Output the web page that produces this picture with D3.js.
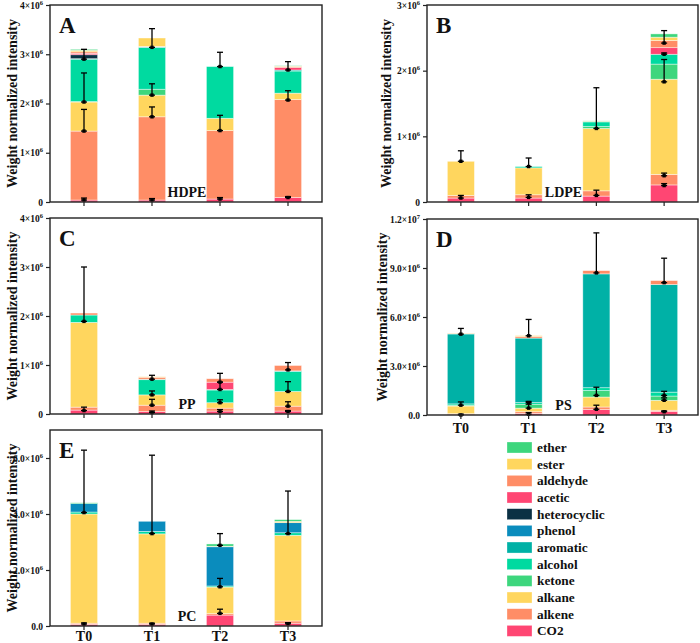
<!DOCTYPE html>
<html><head><meta charset="utf-8">
<script src="https://cdn.jsdelivr.net/npm/d3@7"></script>
<style>body{margin:0;background:#fff}svg{display:block}</style>
</head><body>
<svg id="chart" width="700" height="643"></svg>
<script>
// ---------- DATA (units: 1e6) ----------
const samples = ["T0", "T1", "T2", "T3"];
const compounds = ["CO2","alkene","alkane","ketone","alcohol","aromatic","phenol","heterocyclic","acetic","aldehyde","ester","ether"];
const compoundColors = ["#ff4673","#ff8d66","#ffd65e","#3dd67d","#00daa0","#00b1a6","#0a8cbd","#0b3144","#ff4673","#ff8d66","#ffd65e","#3dd67d"];

const hdpeValues = [
  [0.04,1.40,0.59,0.01,0.86,0.01,0,0.08,0.03,0.03,0.03,0.02],
  [0.04,1.69,0.44,0.12,0.85,0.01,0,0,0,0.01,0.17,0],
  [0.06,1.39,0.25,0,1.05,0,0,0,0,0,0,0],
  [0.09,1.99,0.13,0,0.45,0.02,0,0,0.05,0.02,0.01,0.01]
];
const hdpeErrors = [
  [[0.04,0.08],[1.44,1.88],[2.03,2.62],[2.90,3.10]],
  [[0.04,0.07],[1.73,1.93],[2.17,2.40],[3.14,3.52]],
  [[0.06,0.09],[1.45,1.76],[2.75,3.04]],
  [[0.09,0.11],[2.07,2.26],[2.68,2.85]]
];
const ldpeValues = [
  [0.06,0.04,0.52,0,0,0,0,0,0,0,0,0],
  [0.06,0.05,0.41,0,0.02,0,0,0,0,0,0,0],
  [0.09,0.08,0.95,0.03,0.07,0,0,0,0,0,0.01,0.005],
  [0.26,0.16,1.45,0.23,0.15,0,0,0,0.10,0.11,0.05,0.05]
];
const ldpeErrors = [
  [[0.06,0.10],[0.62,0.78]],
  [[0.07,0.11],[0.54,0.67]],
  [[0.10,0.18],[1.12,1.74]],
  [[0.25,0.28],[0.40,0.44],[1.83,2.17],[2.25,2.27],[2.42,2.61]]
];
const ppValues = [
  [0.08,0.06,1.73,0,0.15,0,0,0,0,0.04,0,0],
  [0.05,0.13,0.21,0,0.31,0.01,0,0,0,0.04,0.01,0],
  [0.06,0.06,0.11,0,0.26,0.01,0,0,0.15,0.07,0,0],
  [0.06,0.10,0.30,0,0.41,0.01,0,0,0,0.11,0,0]
];
const ppErrors = [
  [[0.07,0.14],[1.89,3.00]],
  [[0.03,0.06],[0.18,0.30],[0.39,0.47],[0.71,0.79]],
  [[0.05,0.09],[0.23,0.29],[0.50,0.65],[0.65,0.83]],
  [[0.05,0.07],[0.16,0.25],[0.46,0.66],[0.90,1.05]]
];
const psValues = [
  [0.03,0.05,0.47,0.05,0.08,4.28,0.02,0,0,0.02,0.02,0],
  [0.10,0.10,0.22,0.24,0.10,3.95,0,0,0,0.10,0.05,0],
  [0.33,0.16,0.61,0.40,0.17,6.97,0,0,0,0.20,0,0],
  [0.22,0.07,0.61,0.26,0.24,6.59,0,0,0,0.24,0,0]
];
const psErrors = [
  [[0.0,0.05],[0.60,0.80],[4.95,5.30]],
  [[0.05,0.15],[0.42,0.66],[0.76,0.83],[4.85,5.85]],
  [[0.35,0.60],[1.20,1.70],[8.70,11.15]],
  [[0.20,0.25],[0.90,1.05],[1.20,1.45],[8.10,9.60]]
];
const pcValues = [
  [0.06,0.04,3.90,0,0.07,0,0.30,0,0,0,0,0.03],
  [0.06,0.04,3.19,0,0.09,0,0.36,0,0,0,0,0],
  [0.39,0.05,0.95,0,0.04,0,1.40,0,0,0,0.02,0.08],
  [0.10,0.08,3.06,0,0.09,0,0.36,0,0,0,0.05,0.06]
];
const pcErrors = [
  [[0.07,0.11],[4.05,6.28]],
  [[0.07,0.10],[3.30,6.10]],
  [[0.45,0.60],[1.40,1.70],[2.88,3.30]],
  [[0.08,0.12],[3.30,4.82]]
];
const ticksABC = [0,1,2,3,4];
const ticksB = [0,1,2,3];
const ticksD = [0,3,6,9,12];
const ticksE = [0,2,4,6];

// ---------- DRAW ----------
const svg = d3.select("#chart");
const FONT = "'Liberation Serif','Times New Roman',serif";
const color = d3.scaleOrdinal().domain(compounds).range(compoundColors);

function fmtInt(v){ return v===0 ? ["0",""] : [v+"×10","6"]; }
function fmtD(v){ if(v===0) return ["0.0",""]; if(v>=10) return [(v/10).toFixed(1)+"×10","7"]; return [v.toFixed(1)+"×10","6"]; }
function fmtE(v){ return v===0 ? ["0.0",""] : [v.toFixed(1)+"×10","6"]; }

const panels = [
  {letter:"A", name:"HDPE", values:hdpeValues, errors:hdpeErrors, max:4, ticks:ticksABC, fmt:fmtInt, x0:50, x1:322, y0:5, y1:202, labX:14, showX:false, xLabY:18},
  {letter:"B", name:"LDPE", values:ldpeValues, errors:ldpeErrors, max:3, ticks:ticksB, fmt:fmtInt, x0:427, x1:698, y0:5, y1:202, labX:388, showX:false, xLabY:18},
  {letter:"C", name:"PP", values:ppValues, errors:ppErrors, max:4, ticks:ticksABC, fmt:fmtInt, x0:50, x1:322, y0:218, y1:414, labX:14, showX:false, xLabY:18},
  {letter:"D", name:"PS", values:psValues, errors:psErrors, max:12, ticks:ticksD, fmt:fmtD, x0:427, x1:698, y0:219, y1:415, labX:384, showX:true, xLabY:18},
  {letter:"E", name:"PC", values:pcValues, errors:pcErrors, max:7, ticks:ticksE, fmt:fmtE, x0:50, x1:322, y0:430, y1:626, labX:14, showX:true, xLabY:15}
];

panels.forEach(p => {
  const x = d3.scaleBand().domain(samples).range([p.x0, p.x1]).paddingInner(0.6).paddingOuter(0.3);
  const y = d3.scaleLinear().domain([0, p.max]).range([p.y1, p.y0]);
  const g = svg.append("g");

  const rows = p.values.map((v,i) => { const o = {sample: samples[i]}; compounds.forEach((c,j)=> o[c]=v[j]); return o; });
  const series = d3.stack().keys(compounds)(rows);

  g.selectAll("g.layer").data(series).join("g")
    .attr("fill", d => color(d.key))
    .selectAll("rect").data(d => d.filter(s => s[1]-s[0] > 0)).join("rect")
      .attr("x", d => x(d.data.sample))
      .attr("width", x.bandwidth())
      .attr("y", d => y(d[1]))
      .attr("height", d => y(d[0]) - y(d[1]))
      .attr("stroke", "rgba(255,255,255,0.6)")
      .attr("stroke-width", 0.7);

  // error bars
  p.errors.forEach((errs, i) => {
    const cx = x(samples[i]) + x.bandwidth()/2;
    errs.forEach(([lo, hi]) => {
      const eg = g.append("g").attr("stroke", "#000").attr("stroke-width", 1.3);
      eg.append("line").attr("x1", cx).attr("x2", cx).attr("y1", y(lo)).attr("y2", y(hi));
      eg.append("line").attr("x1", cx-3).attr("x2", cx+3).attr("y1", y(hi)).attr("y2", y(hi));
      eg.append("line").attr("x1", cx-3).attr("x2", cx+3).attr("y1", y(lo)).attr("y2", y(lo));
      g.append("rect").attr("x", cx-1.7).attr("y", y(lo)-1.7).attr("width", 3.4).attr("height", 3.4).attr("fill", "#000");
    });
  });

  // frame
  g.append("rect").attr("x", p.x0).attr("y", p.y0).attr("width", p.x1-p.x0).attr("height", p.y1-p.y0)
    .attr("fill", "none").attr("stroke", "#222").attr("stroke-width", 1.4);

  // y axis
  const ya = g.append("g").attr("transform", `translate(${p.x0},0)`)
    .call(d3.axisLeft(y).tickValues(p.ticks).tickSize(4).tickPadding(3));
  ya.select(".domain").remove();
  ya.selectAll(".tick line").attr("stroke", "#222").attr("stroke-width", 1.2);
  ya.selectAll(".tick text").each(function(d){
    const t = d3.select(this);
    const [m, e] = p.fmt(d);
    t.text(null).attr("font-family", FONT).attr("font-weight", "bold").attr("font-size", 9.5).attr("fill", "#111");
    t.append("tspan").text(m);
    if (e) t.append("tspan").attr("dy", -4).attr("font-size", 6.5).text(e);
  });

  // x axis
  const xa = g.append("g").attr("transform", `translate(0,${p.y1})`)
    .call(d3.axisBottom(x).tickSize(4).tickPadding(5));
  xa.select(".domain").remove();
  xa.selectAll(".tick line").attr("stroke", "#222").attr("stroke-width", 1.2);
  xa.selectAll(".tick text").attr("font-family", FONT).attr("font-weight", "bold").attr("font-size", 14).attr("fill", "#111")
    .attr("y", p.xLabY).attr("dy", 0).style("display", p.showX ? null : "none");

  // panel letter
  g.append("text").attr("x", p.x0+9).attr("y", p.y0+28).attr("font-family", FONT).attr("font-weight", "bold")
    .attr("font-size", 23).attr("fill", "#111").text(p.letter);
  // polymer name
  g.append("text").attr("x", (p.x0+p.x1)/2 + 1).attr("y", p.y1-5).attr("text-anchor", "middle")
    .attr("font-family", FONT).attr("font-weight", "bold").attr("font-size", 14).attr("fill", "#111").text(p.name);
  // y label
  g.append("text").attr("transform", `translate(${p.labX},${(p.y0+p.y1)/2}) rotate(-90)`)
    .attr("text-anchor", "middle").attr("dominant-baseline", "middle")
    .attr("font-family", FONT).attr("font-weight", "bold").attr("font-size", 14).attr("fill", "#111")
    .text("Weight normalized intensity");
});

// legend
const legendItems = compounds.slice().reverse();
const lg = svg.append("g");
legendItems.forEach((c, i) => {
  const cy = 447.5 + i*16.67;
  lg.append("rect").attr("x", 507).attr("y", cy-5.5).attr("width", 25).attr("height", 11)
    .attr("fill", color(c)).attr("stroke", "rgba(255,255,255,0.5)").attr("stroke-width", 0.6);
  lg.append("text").attr("x", 537).attr("y", cy+4.5).attr("font-family", FONT).attr("font-weight", "bold")
    .attr("font-size", 13.3).attr("fill", "#111").text(c);
});
</script>
</body></html>
